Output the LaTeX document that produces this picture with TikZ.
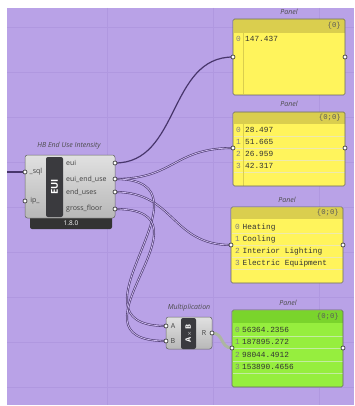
\documentclass[tikz,border=0pt]{standalone}
\usepackage{fontspec}
\setmainfont{Open Sans}
\setmonofont{Liberation Mono}
\definecolor{canvas}{RGB}{185,162,231}
\definecolor{gridcol}{RGB}{176,152,224}
\definecolor{wirecol}{RGB}{72,54,108}
\definecolor{outwire}{RGB}{172,182,162}
\definecolor{panelyellow}{RGB}{255,244,92}
\definecolor{panelhead}{RGB}{218,206,78}
\definecolor{panelgreen}{RGB}{150,238,62}
\definecolor{greenhead}{RGB}{122,212,44}
\definecolor{tabdark}{RGB}{58,58,62}

\tikzset{
  wire/.style={draw=wirecol, line width=1.2pt},
  listwire/.style={draw=wirecol, line width=0.6pt, double=canvas!75!white, double distance=0.8pt},
  port/.style={circle, draw=black!85, fill=white, inner sep=0pt, minimum size=4pt, line width=0.6pt},
  compbody/.style={draw=black!60, line width=0.5pt, rounded corners=2.5pt, top color=black!12, bottom color=black!28},
  tabbox/.style={fill=tabdark, rounded corners=2pt},
  paneltitle/.style={font=\fontsize{7}{8}\selectfont\itshape, text=black!70},
  plabel/.style={font=\fontsize{7}{8}\selectfont, text=black!75, inner sep=0pt},
  rowidx/.style={font=\ttfamily\fontsize{7.8}{8}\selectfont, text=black!50, anchor=west, inner sep=0pt},
  rowval/.style={font=\ttfamily\fontsize{7.8}{8}\selectfont, text=black!80, anchor=west, inner sep=0pt},
  paneltag/.style={font=\ttfamily\fontsize{7.3}{8}\selectfont, text=black!65, anchor=east, inner sep=0pt}
}

\begin{document}
\begin{tikzpicture}[x=1pt,y=-1pt]
\useasboundingbox (0,0) rectangle (354,406);
\fill[white] (0,0) rectangle (354,406);
\fill[canvas] (7,8) rectangle (354,405);
% canvas grid
\foreach \gx in {107,213,319} \draw[gridcol, line width=0.4pt] (\gx,8) -- (\gx,405);
\foreach \gy in {27,72,...,400} \draw[gridcol, line width=0.4pt] (7,\gy) -- (354,\gy);

% ports (positions)
\coordinate (src) at (7,172);
\coordinate (sql) at (25,172);
\coordinate (ip) at (25,201);
\coordinate (eui) at (115,163);
\coordinate (euiend) at (115,179);
\coordinate (enduses) at (115,192);
\coordinate (gross) at (115,209);
\coordinate (p1in) at (233,57);
\coordinate (p2in) at (233,148);
\coordinate (p3in) at (231,245);
\coordinate (p4in) at (232,348);
\coordinate (ma) at (166,326);
\coordinate (mb) at (166,341);
\coordinate (mr) at (212,333);

% wires
\draw[wire] (src) -- (sql);
\draw[wire] (eui) .. controls +(65,0) and +(-65,0) .. (p1in);
\draw[listwire] (euiend) .. controls +(60,0) and +(-60,0) .. (p2in);
\draw[listwire] (enduses) .. controls +(60,0) and +(-60,0) .. (p3in);
\draw[listwire] (euiend) .. controls +(110,0) and +(-110,0) .. (ma);
\draw[listwire] (gross) .. controls +(110,0) and +(-110,0) .. (mb);
\draw[outwire, line width=3pt] (mr) .. controls +(12,0) and +(-12,0) .. (p4in);

% HB End Use Intensity
\node[paneltitle] (euititle) at (69,146) {HB End Use Intensity};
\fill[black!80, rounded corners=2pt] (30,212) rectangle (112,229);
\node[font=\fontsize{6.5}{7}\selectfont, text=white] (euiver) at (71,223.5) {1.8.0};
\path[compbody] (25,155) rectangle (115,218);
\path[tabbox] (46,157) rectangle (63,217);
\node[rotate=90, font=\fontsize{9.5}{10}\selectfont\bfseries, text=white] (euitab) at (54.5,187) {EUI};
\node[plabel] (lsql) at (36,172) {\_sql};
\node[plabel] (lip) at (35,201) {ip\_};
\node[plabel, anchor=west] (leui) at (66,163) {eui};
\node[plabel, anchor=west] (leuiend) at (66,179) {eui\_end\_use};
\node[plabel, anchor=west] (lenduses) at (66,192) {end\_uses};
\node[plabel, anchor=west] (lgross) at (66,209) {gross\_floor};

% Multiplication
\node[paneltitle] (multitle) at (189,308) {Multiplication};
\path[compbody] (166,317) rectangle (212,349);
\path[tabbox] (181,318) rectangle (196,349);
\node[rotate=90, font=\fontsize{7.5}{8}\selectfont\bfseries, text=white] (multab) at (188.5,333.5) {A\,{\fontsize{5}{6}\selectfont$\times$}\,B};
\node[plabel] (la) at (173,326) {A};
\node[plabel] (lb) at (173,341) {B};
\node[plabel] (lr) at (204,333) {R};

% Panel 1
\node[paneltitle] (t1) at (289,12) {Panel};
\fill[panelyellow, rounded corners=1.5pt] (233,19) rectangle (345,95);
\fill[panelhead] (233.5,19.5) rectangle (344.5,33);
\draw[panelhead, line width=0.5pt] (243,19.5) -- (243,94.5);
\draw[black!60, line width=0.6pt, rounded corners=1.5pt] (233,19) rectangle (345,95);
\node[paneltag] (tag1) at (341,26) {\{0\}};
\node[rowidx] (p1i0) at (236,38.5) {0};
\node[rowval] (p1v0) at (245,38.5) {147.437};

% Panel 2
\node[paneltitle] (t2) at (289,104) {Panel};
\fill[panelyellow, rounded corners=1.5pt] (233,112) rectangle (345,186);
\fill[panelhead] (233.5,112.5) rectangle (344.5,124);
\foreach \ly in {136,148,160,172} \draw[panelhead!45, line width=0.4pt] (233.5,\ly) -- (344.5,\ly);
\draw[panelhead, line width=0.5pt] (243,112.5) -- (243,185.5);
\draw[black!60, line width=0.6pt, rounded corners=1.5pt] (233,112) rectangle (345,186);
\node[paneltag] (tag2) at (341,118) {\{0;0\}};
\foreach \v [count=\k from 0] in {28.497,51.665,26.959,42.317} {
  \node[rowidx] (p2i\k) at (236,130+12*\k) {\k};
  \node[rowval] (p2v\k) at (245,130+12*\k) {\v};
}

% Panel 3
\node[paneltitle] (t3) at (287,200) {Panel};
\fill[panelyellow, rounded corners=1.5pt] (231,207) rectangle (343,283);
\fill[panelhead] (231.5,207.5) rectangle (342.5,219);
\foreach \ly in {233,245,257,269} \draw[panelhead!45, line width=0.4pt] (231.5,\ly) -- (342.5,\ly);
\draw[black!60, line width=0.6pt, rounded corners=1.5pt] (231,207) rectangle (343,283);
\node[paneltag] (tag3) at (339,213) {\{0;0\}};
\foreach \v [count=\k from 0] in {Heating,Cooling,Interior Lighting,Electric Equipment} {
  \node[rowidx] (p3i\k) at (235,227+12*\k) {\k};
  \node[rowval] (p3v\k) at (242.5,227+12*\k) {\v};
}

% Panel 4
\node[paneltitle] (t4) at (288,303) {Panel};
\fill[panelgreen, rounded corners=1.5pt] (232,310) rectangle (343,387);
\fill[greenhead] (232.5,310.5) rectangle (342.5,323);
\foreach \ly in {336,348,361,373} \draw[greenhead!45, line width=0.4pt] (232.5,\ly) -- (342.5,\ly);
\draw[black!60, line width=0.6pt, rounded corners=1.5pt] (232,310) rectangle (343,387);
\node[paneltag] (tag4) at (339,316.5) {\{0;0\}};
\foreach \v [count=\k from 0] in {56364.2356,187895.272,98044.4912,153890.4656} {
  \node[rowidx] (p4i\k) at (235,330+12.3*\k) {\k};
  \node[rowval] (p4v\k) at (242,330+12.3*\k) {\v};
}

% port circles
\foreach \p in {sql,ip,eui,euiend,enduses,gross,p1in,p2in,p3in,p4in,ma,mb,mr}
  \node[port] (c-\p) at (\p) {};
\node[port] (c-p1out) at (345,57) {};
\node[port] (c-p2out) at (345,148) {};
\node[port] (c-p3out) at (343,245) {};
\node[port] (c-p4out) at (343,348) {};
\end{tikzpicture}
\end{document}
